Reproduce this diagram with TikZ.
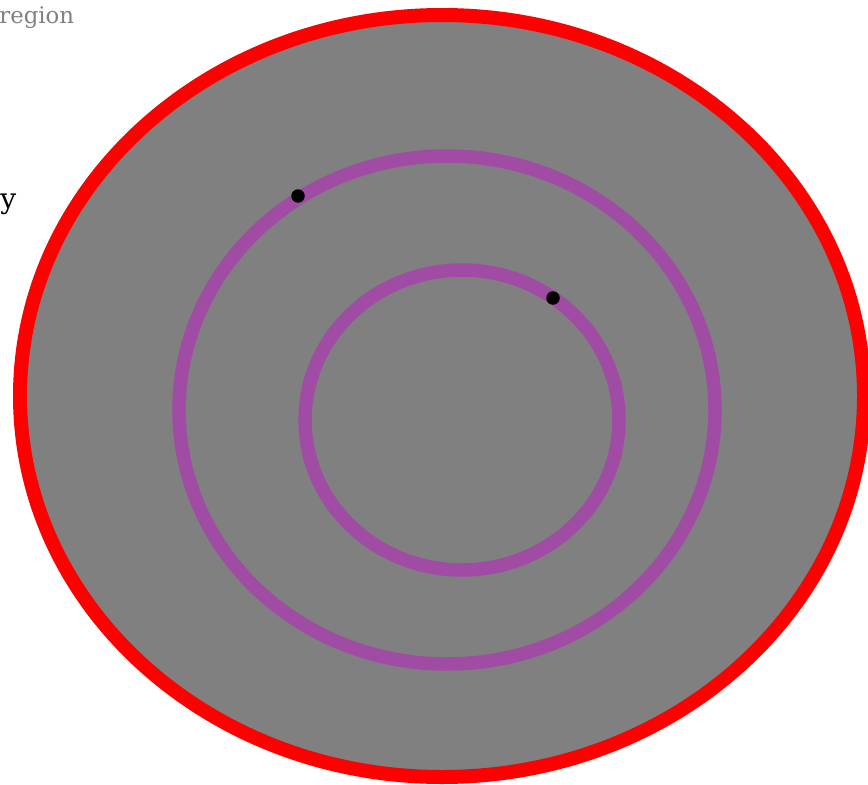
\documentclass[tikz,border=0pt]{standalone}
\usepackage{fontspec}
\setmainfont{DejaVu Serif}
\usetikzlibrary{positioning}
\definecolor{ringpurple}{RGB}{160,76,164}
\definecolor{regiongray}{RGB}{128,128,128}

\begin{document}
\begin{tikzpicture}[
    x=0.02cm,
    y=-0.02cm,
    font=\fontsize{13}{15}\selectfont,
    outerline/.style={draw=red, fill=regiongray, line width=0.28cm},
    ring/.style={draw=ringpurple, line width=0.27cm},
    point/.style={circle, fill=black, inner sep=0pt, minimum size=0.27cm},
    caption/.style={inner sep=0pt, anchor=base west}
]
\useasboundingbox (0,0) rectangle (868,784);

% ============================================================
% GEBIET
% ============================================================
\draw[outerline] (442,396) ellipse [x radius=422, y radius=381];

% ============================================================
% KREISE
% ============================================================
\draw[ring] (447,410) ellipse [x radius=268, y radius=254];
\draw[ring] (462,420) ellipse [x radius=157, y radius=150];

% ============================================================
% PUNKTE
% ============================================================
\node[point] (p1) at (298,196) {};
\node[point] (p2) at (553,298) {};

% ============================================================
% BESCHRIFTUNG
% ============================================================
\node[caption, text=regiongray] (reg) at (-1,24) {region};
\node[caption, font=\fontsize{16}{18}\selectfont] (why) at (0,208) {y};

\end{tikzpicture}
\end{document}
